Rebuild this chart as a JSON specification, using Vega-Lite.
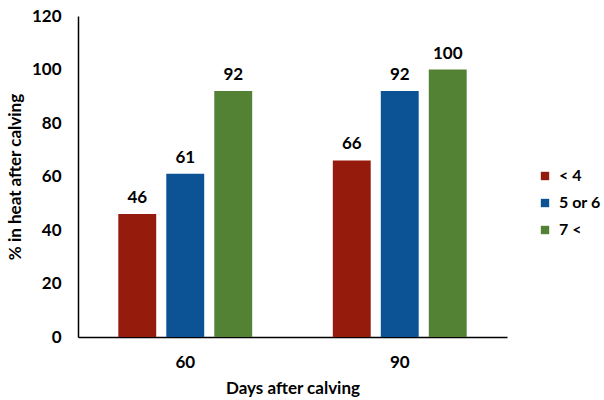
{
  "$schema": "https://vega.github.io/schema/vega-lite/v6.json",
  "width": 429,
  "height": 321,
  "autosize": {"type": "none"},
  "padding": {"left": 78, "top": 16, "right": 97, "bottom": 63},
  "background": "white",
  "config": {
    "view": {"stroke": null},
    "font": "Lato",
    "axis": {"labelFont": "Lato", "titleFont": "Lato", "labelFontWeight": "bold", "titleFontWeight": "bold", "labelColor": "#000", "titleColor": "#000", "grid": false, "ticks": false, "domainColor": "#000", "domainWidth": 1.5}
  },
  "data": {
    "values": [
      {"day": "60", "group": "< 4", "value": 46},
      {"day": "60", "group": "5 or 6", "value": 61},
      {"day": "60", "group": "7 <", "value": 92},
      {"day": "90", "group": "< 4", "value": 66},
      {"day": "90", "group": "5 or 6", "value": 92},
      {"day": "90", "group": "7 <", "value": 100}
    ]
  },
  "encoding": {
    "x": {"field": "day", "type": "nominal", "scale": {"paddingInner": 0, "paddingOuter": 0}, "axis": {"title": "Days after calving", "labelAngle": 0, "labelFontSize": 17, "titleFontSize": 17, "labelPadding": 17, "titlePadding": 10}},
    "xOffset": {"field": "group", "type": "nominal", "scale": {"domain": ["< 4", "5 or 6", "7 <"], "paddingInner": 0.21, "paddingOuter": 0.84}},
    "y": {"field": "value", "type": "quantitative", "scale": {"domain": [0, 120], "nice": false}, "axis": {"title": "% in heat after calving", "values": [0, 20, 40, 60, 80, 100, 120], "labelFontSize": 17, "titleFontSize": 17, "labelPadding": 17, "titlePadding": 7}}
  },
  "layer": [
    {
      "mark": {"type": "bar"},
      "encoding": {
        "color": {"field": "group", "type": "nominal", "scale": {"domain": ["< 4", "5 or 6", "7 <"], "range": ["#951B0C", "#0B5394", "#548235"]},
          "legend": {"title": null, "orient": "none", "legendX": 459, "legendY": 152, "symbolType": "square", "symbolSize": 70, "symbolStrokeWidth": 0, "labelFontSize": 16, "labelFontWeight": "bold", "labelFont": "Lato", "labelColor": "#000", "rowPadding": 11, "labelOffset": 6, "padding": 0}}
      }
    },
    {
      "mark": {"type": "text", "baseline": "bottom", "dy": -7, "fontSize": 17, "fontWeight": "bold", "font": "Lato", "color": "#000"},
      "encoding": {"text": {"field": "value", "type": "quantitative"}}
    }
  ]
}
